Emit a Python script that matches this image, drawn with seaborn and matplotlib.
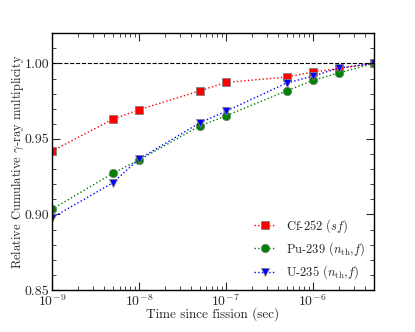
import matplotlib
matplotlib.use("Agg")
import matplotlib.pyplot as plt
import seaborn as sns
import pandas as pd
from matplotlib.ticker import MultipleLocator, LogLocator, NullFormatter

times = [1e-9, 5e-9, 1e-8, 5e-8, 1e-7, 5e-7, 1e-6, 2e-6, 5e-6]
cf252 = [0.9419, 0.9630, 0.9693, 0.9818, 0.9874, 0.9910, 0.9942, 0.9966, 1.0]
pu239 = [0.9034, 0.9272, 0.9360, 0.9585, 0.9653, 0.9818, 0.9887, 0.9937, 1.0]
u235 = [0.8978, 0.9209, 0.9366, 0.9606, 0.9683, 0.9870, 0.9915, 0.9970, 1.0]
labels = [r"Cf-252 ($sf$)", r"Pu-239 ($n_{\rm th}$,$f$)", r"U-235 ($n_{\rm th}$,$f$)"]

sns.set_style("ticks")
plt.rcParams["font.family"] = ["cmr10", "DejaVu Serif"]
plt.rcParams["mathtext.fontset"] = "cm"
plt.rcParams["axes.formatter.use_mathtext"] = True
plt.rcParams["axes.unicode_minus"] = False

fig = plt.figure(figsize=(4.15, 3.32), dpi=100)
ax = fig.add_axes([0.125, 0.1265, 0.775, 0.7735])

styles = [("red", "s"), ("green", "o"), ("blue", "v")]
for vals, lab, (col, mk) in zip([cf252, pu239, u235], labels, styles):
    df = pd.DataFrame({"t": times, "m": vals})
    sns.lineplot(data=df, x="t", y="m", ax=ax, color=col, marker=mk, markersize=6,
                 markeredgecolor="gray", markeredgewidth=0.6, linestyle=":",
                 linewidth=1, label=lab)

ax.axhline(1.0, color="black", linestyle="--", linewidth=0.8)
ax.set_xscale("log")
ax.set_xlim(1e-9, 5e-6)
ax.set_ylim(0.85, 1.02)
ax.xaxis.set_minor_locator(LogLocator(base=10, subs=range(2, 10), numticks=20))
ax.xaxis.set_minor_formatter(NullFormatter())
ax.yaxis.set_major_locator(MultipleLocator(0.05))
ax.yaxis.set_minor_locator(MultipleLocator(0.01))
ax.yaxis.set_major_formatter(matplotlib.ticker.FormatStrFormatter("%.2f"))
ax.tick_params(which="both", direction="in", top=True, right=True, labelsize=10)
ax.tick_params(which="major", length=6, pad=2)
ax.tick_params(which="minor", length=3)
for s in ax.spines.values():
    s.set_linewidth(1)
    s.set_color("black")
ax.set_xlabel("Time since fission (sec)", fontsize=9.5, labelpad=-1)
ax.set_ylabel(r"Relative Cumulative $\gamma$-ray multiplicity", fontsize=9, labelpad=-1)
ax.legend(loc="lower right", frameon=False, fontsize=9, numpoints=1,
          handlelength=1.7, handletextpad=0.8, labelspacing=0.45, borderaxespad=0.3)

fig.savefig("out.png", dpi=100)
